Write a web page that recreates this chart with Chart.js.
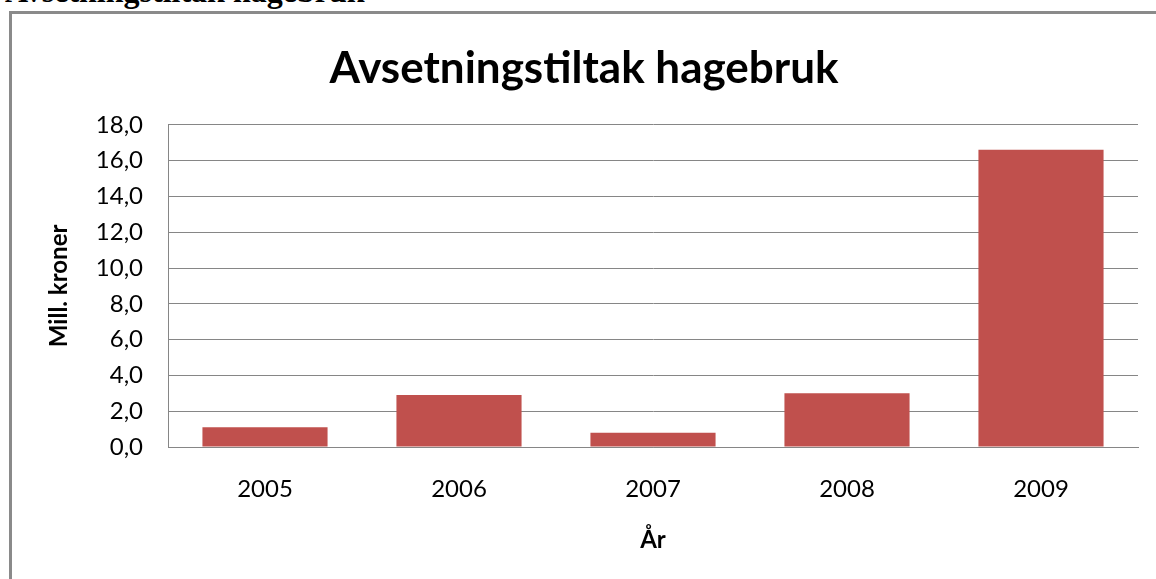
<!DOCTYPE html>
<html>
<head>
<meta charset="utf-8">
<script src="https://cdn.jsdelivr.net/npm/chart.js@4"></script>
<style>
  html, body { margin: 0; padding: 0; background: #fff; overflow: hidden; }
  #page { position: relative; width: 1156px; height: 579px; }
  #heading { position: absolute; left: 5px; top: -25px; font-family: "Liberation Serif", serif; font-weight: bold; font-size: 32px; line-height: 32px; white-space: nowrap; color: #000; }
  #box { position: absolute; left: 9px; top: 11px; width: 1200px; height: 600px; border: 3px solid #8a8a8a; box-sizing: border-box; }
  #wrap { position: absolute; left: 0; top: 0; width: 1156px; height: 579px; }
</style>
</head>
<body>
<div id="page">
  <div id="heading">Avsetningstiltak hagebruk</div>
  <div id="box"></div>
  <div id="wrap"><canvas id="c" width="1156" height="579"></canvas></div>
</div>
<script>
const chartTitle = "Avsetningstiltak hagebruk";
const categories = ["2005", "2006", "2007", "2008", "2009"];
const values = [1.1, 2.9, 0.8, 3.0, 16.6];
const yTicks = [0, 2, 4, 6, 8, 10, 12, 14, 16, 18];
const yAxisTitle = "Mill. kroner";
const xAxisTitle = "År";

const FONT = "Lato, 'Open Sans', sans-serif";

new Chart(document.getElementById("c"), {
  type: "bar",
  data: {
    labels: categories,
    datasets: [{
      data: values,
      backgroundColor: "#C0504D",
      borderWidth: 0,
      barPercentage: 0.645,
      categoryPercentage: 1.0
    }]
  },
  options: {
    responsive: false,
    animation: false,
    layout: { padding: { left: 30, right: 18, top: 0, bottom: 0 } },
    plugins: {
      legend: { display: false },
      tooltip: { enabled: false },
      title: {
        display: true,
        text: chartTitle,
        color: "#000",
        font: { family: FONT, size: 44, weight: "bold" },
        padding: { top: 42, bottom: 30 }
      }
    },
    scales: {
      x: {
        grid: { display: false, drawTicks: false },
        border: { display: true, color: "#868686", width: 1 },
        ticks: { color: "#000", font: { family: FONT, size: 24 }, padding: 28 },
        title: { display: true, text: xAxisTitle, color: "#000", font: { family: FONT, size: 24, weight: "bold" }, padding: { top: 10, bottom: 24 } },
        afterFit: (s) => { s.height = 579 - 447; }
      },
      y: {
        min: 0,
        max: 18,
        afterBuildTicks: (s) => { s.ticks = yTicks.map(v => ({ value: v })); },
        grid: { color: "#868686", drawTicks: false },
        border: { display: true, color: "#868686", width: 1 },
        ticks: {
          color: "#000",
          font: { family: FONT, size: 24 },
          padding: 25,
          callback: (v) => Number(v).toFixed(1).replace(".", ",")
        },
        title: { display: true, text: yAxisTitle, color: "#000", font: { family: FONT, size: 24, weight: "bold" }, padding: { top: 15, bottom: 0 } },
        afterFit: (s) => { s.width = 168 - 30; }
      }
    }
  }
});
</script>
</body>
</html>
